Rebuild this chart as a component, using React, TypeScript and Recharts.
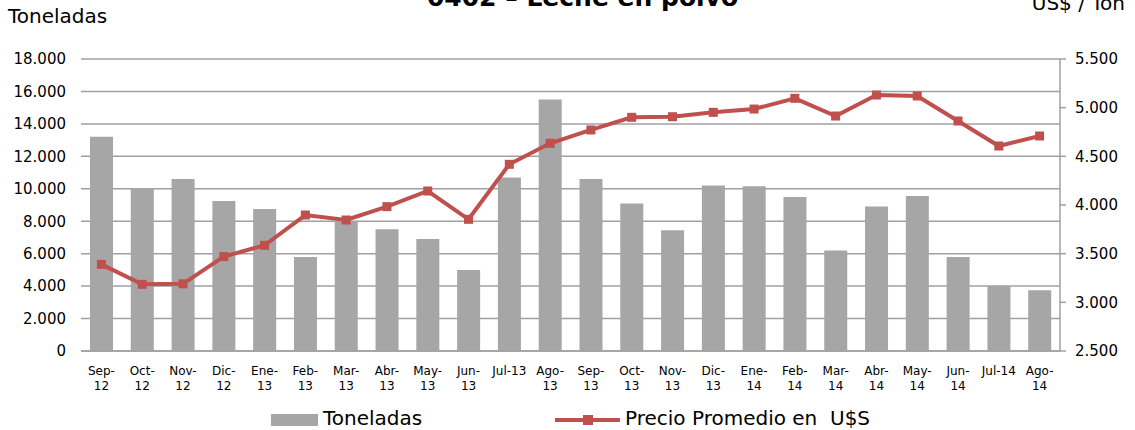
import { ComposedChart, Bar, Line, XAxis, YAxis, CartesianGrid, Legend } from "recharts";

const months = [
  "Sep-12", "Oct-12", "Nov-12", "Dic-12", "Ene-13", "Feb-13", "Mar-13", "Abr-13",
  "May-13", "Jun-13", "Jul-13", "Ago-13", "Sep-13", "Oct-13", "Nov-13", "Dic-13",
  "Ene-14", "Feb-14", "Mar-14", "Abr-14", "May-14", "Jun-14", "Jul-14", "Ago-14",
];

const toneladas = [
  13200, 10050, 10600, 9250, 8750, 5800, 8000, 7500,
  6900, 5000, 10700, 15500, 10600, 9100, 7450, 10200,
  10150, 9500, 6200, 8900, 9550, 5800, 4000, 3750,
];

const precio = [
  3390, 3185, 3190, 3470, 3586, 3897, 3846, 3983,
  4144, 3853, 4418, 4634, 4771, 4901, 4907, 4952,
  4986, 5096, 4914, 5130, 5120, 4863, 4606, 4709,
];

const leftTicks = [0, 2000, 4000, 6000, 8000, 10000, 12000, 14000, 16000, 18000];
const rightTicks = [2500, 3000, 3500, 4000, 4500, 5000, 5500];

const data = months.map((m, i) => ({ mes: m, toneladas: toneladas[i], precio: precio[i] }));

const FONT = "'DejaVu Sans', Verdana, sans-serif";
const BAR = "#a6a6a6";
const RED = "#c0504d";
const GRID = "#a0a0a0";

const fmt = (n: number) => n.toString().replace(/\B(?=(\d{3})+(?!\d))/g, ".");

const MonthTick = (props: any) => {
  const { x, y, payload } = props;
  const label: string = payload.value;
  const lines = label.startsWith("Jul") ? [label] : [label.slice(0, 4), label.slice(4)];
  return (
    <text x={x} y={y} textAnchor="middle" fontSize={12} fontFamily={FONT} fill="#000">
      {lines.map((l, i) => (
        <tspan key={i} x={x} dy={i === 0 ? 16 : 15}>
          {l}
        </tspan>
      ))}
    </text>
  );
};

const SquareDot = (props: any) => {
  const { cx, cy } = props;
  if (cx == null || cy == null) return null;
  return <rect x={cx - 4.5} y={cy - 4.5} width={9} height={9} fill={RED} />;
};

const LegendBox = () => (
  <div style={{ position: "relative", height: 40, fontFamily: FONT, fontSize: 20, color: "#000" }}>
    <div style={{ position: "absolute", left: 271, top: 24, width: 47, height: 12, background: BAR }} />
    <div style={{ position: "absolute", left: 323, top: 17, lineHeight: "23px" }}>Toneladas</div>
    <div style={{ position: "absolute", left: 555, top: 28, width: 65, height: 4, background: RED }} />
    <div style={{ position: "absolute", left: 583, top: 25, width: 10, height: 10, background: RED }} />
    <div style={{ position: "absolute", left: 625, top: 17, lineHeight: "23px", whiteSpace: "pre" }}>
      Precio Promedio en  U$S
    </div>
  </div>
);

export default function App() {
  return (
    <div style={{ position: "absolute", left: 0, top: 0, width: 1135, height: 430, background: "#fff", overflow: "hidden" }}>
      <div
        style={{
          position: "absolute", left: 15, width: 1135, top: -15, textAlign: "center", lineHeight: "25px",
          fontFamily: FONT, fontWeight: "bold", fontSize: 25, color: "#000", whiteSpace: "pre",
        }}
      >
        0402 – Leche en polvo
      </div>
      <div style={{ position: "absolute", left: 8, top: 6, lineHeight: "20px", fontFamily: FONT, fontSize: 20, color: "#000" }}>
        Toneladas
      </div>
      <div
        style={{
          position: "absolute", right: 10, top: -7, lineHeight: "20px", fontFamily: FONT, fontSize: 20, color: "#000",
          whiteSpace: "pre",
        }}
      >
        US$ / Ton
      </div>
      <ComposedChart
        width={1135}
        height={430}
        data={data}
        margin={{ top: 59, right: 0, bottom: 0, left: 0 }}
        barCategoryGap={0}
      >
        <CartesianGrid yAxisId="left" vertical={false} stroke={GRID} strokeWidth={1.5} />
        <XAxis
          dataKey="mes"
          height={39}
          interval={0}
          tick={<MonthTick />}
          tickLine={false}
          axisLine={{ stroke: GRID, strokeWidth: 1.5 }}
        />
        <YAxis
          yAxisId="left"
          width={81}
          domain={[0, 18000]}
          ticks={leftTicks}
          tickFormatter={fmt}
          axisLine={false}
          tickLine={false}
          tickMargin={9}
          tick={{ fontSize: 15, fontFamily: FONT, fill: "#000" }}
        />
        <YAxis
          yAxisId="right"
          orientation="right"
          width={75}
          domain={[2500, 5500]}
          ticks={rightTicks}
          tickFormatter={fmt}
          axisLine={{ stroke: GRID, strokeWidth: 1.5 }}
          tickLine={{ stroke: GRID, strokeWidth: 1.5 }}
          tickSize={6}
          tickMargin={9}
          tick={{ fontSize: 15, fontFamily: FONT, fill: "#000" }}
        />
        <Bar yAxisId="left" dataKey="toneladas" name="Toneladas" fill={BAR} barSize={23} isAnimationActive={false} />
        <Line
          yAxisId="right"
          dataKey="precio"
          name="Precio Promedio en  U$S"
          stroke={RED}
          strokeWidth={4}
          dot={<SquareDot />}
          activeDot={false}
          isAnimationActive={false}
        />
        <Legend verticalAlign="bottom" content={<LegendBox />} wrapperStyle={{ left: 0, width: 1135, height: 40 }} />
      </ComposedChart>
    </div>
  );
}
